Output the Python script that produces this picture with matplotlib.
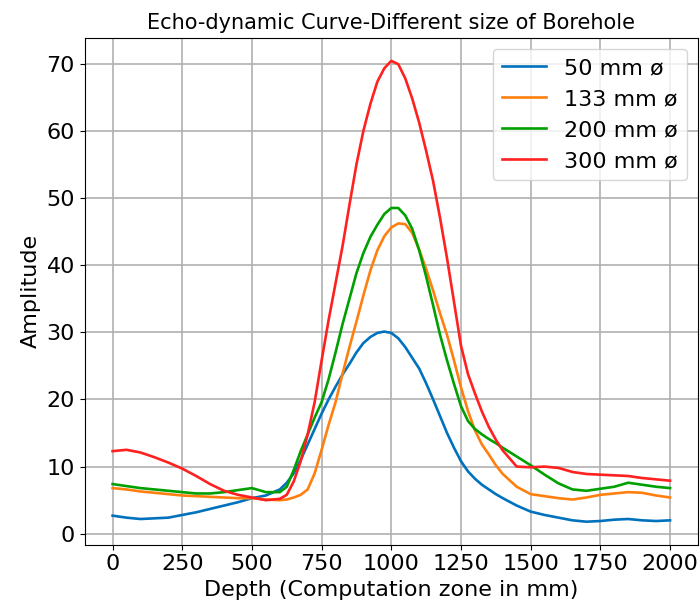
import matplotlib
matplotlib.use("Agg")
import matplotlib.pyplot as plt

depth = [0, 50, 100, 150, 200, 250, 300, 350, 400, 450, 500, 550, 600,
         625, 650, 675, 700, 725, 750, 775, 800, 825, 850, 875, 900, 925, 950, 975,
         1000, 1025, 1050, 1075, 1100, 1125, 1150, 1175, 1200, 1225, 1250, 1275,
         1300, 1325, 1350, 1375, 1400,
         1450, 1500, 1550, 1600, 1650, 1700, 1750, 1800, 1850, 1900, 1950, 2000]

amp_50 = [2.7, 2.4, 2.2, 2.3, 2.4, 2.8, 3.2, 3.7, 4.2, 4.7, 5.3, 5.7, 6.6,
          7.6, 9.0, 11.0, 13.3, 15.6, 17.9, 20.0, 21.9, 23.7, 25.3, 27.0, 28.4, 29.3, 29.9, 30.1,
          29.9, 29.1, 27.8, 26.2, 24.6, 22.4, 20.0, 17.5, 15.0, 12.8, 10.8, 9.3,
          8.2, 7.3, 6.6, 5.9, 5.3,
          4.2, 3.3, 2.8, 2.4, 2.0, 1.8, 1.9, 2.1, 2.2, 2.0, 1.9, 2.0]

amp_133 = [6.8, 6.6, 6.3, 6.1, 5.9, 5.7, 5.6, 5.5, 5.4, 5.3, 5.3, 5.1, 5.0,
           5.1, 5.4, 5.8, 6.6, 9.0, 12.5, 16.2, 19.6, 23.8, 27.8, 31.6, 35.5, 39.2, 42.2, 44.3,
           45.6, 46.2, 46.1, 44.8, 42.3, 39.4, 36.2, 32.8, 29.6, 25.8, 21.8, 18.3,
           15.4, 13.3, 11.8, 10.2, 8.9,
           7.0, 5.9, 5.6, 5.3, 5.1, 5.4, 5.8, 6.0, 6.2, 6.1, 5.7, 5.4]

amp_200 = [7.4, 7.1, 6.8, 6.6, 6.4, 6.2, 6.0, 6.0, 6.2, 6.5, 6.8, 6.2, 6.2,
           7.0, 9.5, 12.3, 14.8, 17.3, 19.6, 23.0, 27.0, 31.2, 35.0, 38.8, 41.8, 44.2, 46.0, 47.6,
           48.5, 48.5, 47.4, 45.4, 42.2, 38.3, 34.0, 29.6, 25.8, 22.3, 19.0, 16.8,
           15.6, 14.8, 14.1, 13.5, 12.8,
           11.5, 10.2, 8.8, 7.5, 6.6, 6.4, 6.7, 7.0, 7.6, 7.3, 7.0, 6.8]

amp_300 = [12.3, 12.5, 12.1, 11.4, 10.6, 9.7, 8.6, 7.4, 6.4, 5.8, 5.4, 5.0, 5.2,
           5.8, 7.8, 10.8, 14.8, 19.6, 25.8, 31.8, 37.3, 42.8, 49.0, 55.0, 60.0, 64.0, 67.3, 69.3,
           70.4, 69.9, 67.8, 64.8, 61.2, 57.0, 52.5, 47.0, 41.0, 34.5, 28.0, 23.8,
           20.9, 18.2, 15.9, 14.0, 12.4,
           10.0, 9.9, 10.0, 9.8, 9.2, 8.9, 8.8, 8.7, 8.6, 8.3, 8.1, 7.9]

labels = ["50 mm ø", "133 mm ø", "200 mm ø", "300 mm ø"]
series = [amp_50, amp_133, amp_200, amp_300]
colors = ["#0072BD", "#FF7F0E", "#00A000", "#FF2020"]

x_ticks = [0, 250, 500, 750, 1000, 1250, 1500, 1750, 2000]
y_ticks = [0, 10, 20, 30, 40, 50, 60, 70]

plt.rcParams['font.family'] = ['DejaVu Sans']

fig = plt.figure(figsize=(7.0, 6.1), dpi=100)
ax = fig.add_axes([0.121, 0.107, 0.876, 0.831])

for vals, lab, col in zip(series, labels, colors):
    ax.plot(depth, vals, color=col, lw=1.9, label=lab)

ax.set_xticks(x_ticks)
ax.set_yticks(y_ticks)
ax.tick_params(labelsize=16)
ax.grid(True, color='#b0b0b0', lw=1.2)
ax.set_axisbelow(True)
ax.set_xlabel("Depth (Computation zone in mm)", fontsize=16)
ax.set_ylabel("Amplitude", fontsize=16)
ax.set_title("Echo-dynamic Curve-Different size of Borehole", fontsize=15)
ax.legend(loc='upper right', fontsize=16)

fig.savefig("out.png", dpi=100)
